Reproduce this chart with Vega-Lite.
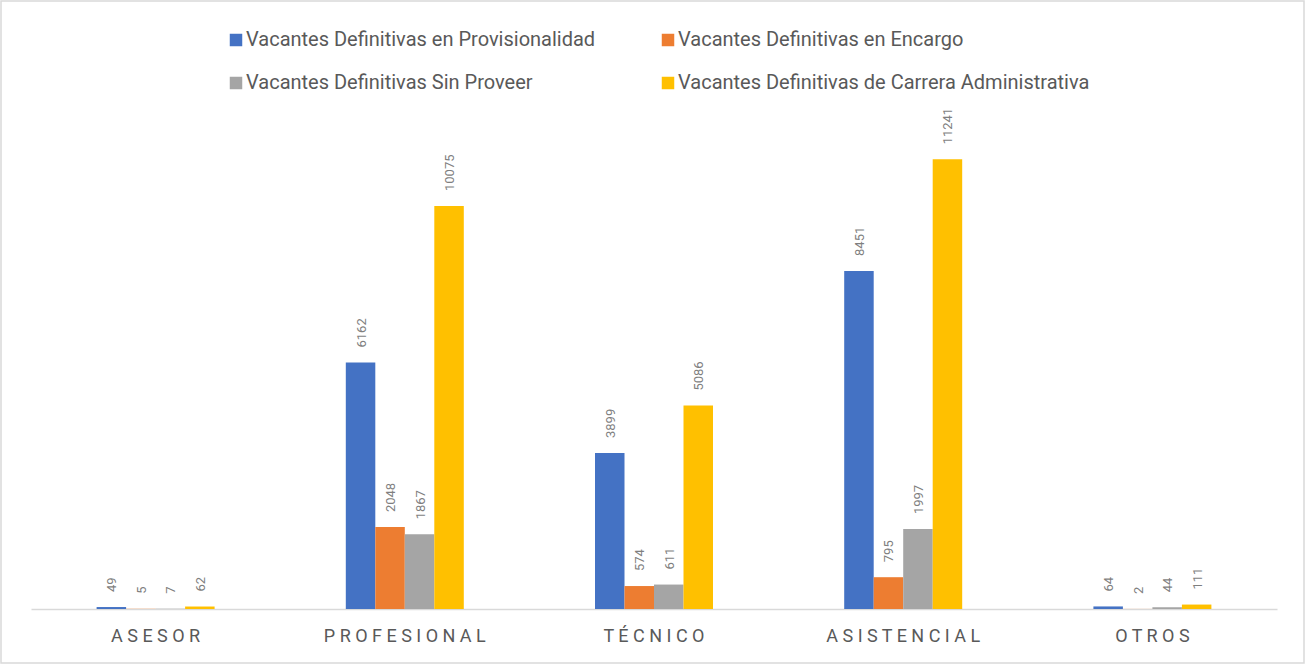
{
  "$schema": "https://vega.github.io/schema/vega-lite/v6.json",
  "width": 1303,
  "height": 662,
  "autosize": {"type": "none"},
  "padding": {"left": 1, "top": 1, "right": 2, "bottom": 2},
  "background": "white",
  "config": {
    "view": {"stroke": "#d9d9d9", "strokeWidth": 1.5},
    "font": "Roboto"
  },
  "data": {
    "values": [
      {"cargo": "ASESOR", "serie": "Vacantes Definitivas en Provisionalidad", "valor": 49},
      {"cargo": "ASESOR", "serie": "Vacantes Definitivas en Encargo", "valor": 5},
      {"cargo": "ASESOR", "serie": "Vacantes Definitivas Sin Proveer", "valor": 7},
      {"cargo": "ASESOR", "serie": "Vacantes Definitivas de Carrera Administrativa", "valor": 62},
      {"cargo": "PROFESIONAL", "serie": "Vacantes Definitivas en Provisionalidad", "valor": 6162},
      {"cargo": "PROFESIONAL", "serie": "Vacantes Definitivas en Encargo", "valor": 2048},
      {"cargo": "PROFESIONAL", "serie": "Vacantes Definitivas Sin Proveer", "valor": 1867},
      {"cargo": "PROFESIONAL", "serie": "Vacantes Definitivas de Carrera Administrativa", "valor": 10075},
      {"cargo": "TÉCNICO", "serie": "Vacantes Definitivas en Provisionalidad", "valor": 3899},
      {"cargo": "TÉCNICO", "serie": "Vacantes Definitivas en Encargo", "valor": 574},
      {"cargo": "TÉCNICO", "serie": "Vacantes Definitivas Sin Proveer", "valor": 611},
      {"cargo": "TÉCNICO", "serie": "Vacantes Definitivas de Carrera Administrativa", "valor": 5086},
      {"cargo": "ASISTENCIAL", "serie": "Vacantes Definitivas en Provisionalidad", "valor": 8451},
      {"cargo": "ASISTENCIAL", "serie": "Vacantes Definitivas en Encargo", "valor": 795},
      {"cargo": "ASISTENCIAL", "serie": "Vacantes Definitivas Sin Proveer", "valor": 1997},
      {"cargo": "ASISTENCIAL", "serie": "Vacantes Definitivas de Carrera Administrativa", "valor": 11241},
      {"cargo": "OTROS", "serie": "Vacantes Definitivas en Provisionalidad", "valor": 64},
      {"cargo": "OTROS", "serie": "Vacantes Definitivas en Encargo", "valor": 2},
      {"cargo": "OTROS", "serie": "Vacantes Definitivas Sin Proveer", "valor": 44},
      {"cargo": "OTROS", "serie": "Vacantes Definitivas de Carrera Administrativa", "valor": 111}
    ]
  },
  "encoding": {
    "x": {
      "field": "cargo",
      "type": "nominal",
      "sort": null,
      "scale": {"range": [30, 1276], "paddingInner": 0.5265, "paddingOuter": 0.26325},
      "axis": {
        "title": null,
        "offset": -54,
        "domainColor": "#d9d9d9",
        "domainWidth": 1.5,
        "ticks": false,
        "grid": false,
        "labelAngle": 0,
        "labelFontSize": 18,
        "labelColor": "#595959",
        "labelPadding": 18,
        "labelLimit": 0,
        "labelFont": "Roboto",
        "labelExpr": "join(split(datum.label, ''), ' ')"
      }
    },
    "xOffset": {
      "field": "serie",
      "type": "nominal",
      "sort": null,
      "scale": {"paddingInner": 0, "paddingOuter": 0}
    },
    "y": {
      "field": "valor",
      "type": "quantitative",
      "scale": {"domain": [-1350, 15200], "nice": false, "zero": false},
      "axis": null
    }
  },
  "layer": [
    {
      "mark": {"type": "bar"},
      "encoding": {
        "y2": {"datum": 0},
        "color": {
          "field": "serie",
          "type": "nominal",
          "sort": null,
          "scale": {
            "domain": [
              "Vacantes Definitivas en Provisionalidad",
              "Vacantes Definitivas en Encargo",
              "Vacantes Definitivas Sin Proveer",
              "Vacantes Definitivas de Carrera Administrativa"
            ],
            "range": ["#4472C4", "#ED7D31", "#A5A5A5", "#FFC000"]
          },
          "legend": {
            "orient": "none",
            "legendX": 225,
            "legendY": 29,
            "direction": "horizontal",
            "columns": 2,
            "title": null,
            "padding": 0,
            "symbolType": "square",
            "symbolSize": 156,
            "symbolStrokeWidth": 0,
            "labelFontSize": 20,
            "labelColor": "#595959",
            "labelFont": "Roboto",
            "labelLimit": 0,
            "labelOffset": 0,
            "rowPadding": 23,
            "columnPadding": 62
          }
        }
      }
    },
    {
      "mark": {
        "type": "text",
        "angle": 270,
        "align": "left",
        "baseline": "middle",
        "dx": 15,
        "dy": 1,
        "fontSize": 13,
        "color": "#7f7f7f",
        "font": "Roboto"
      },
      "encoding": {
        "text": {"field": "valor", "type": "quantitative", "format": "d"}
      }
    }
  ]
}
